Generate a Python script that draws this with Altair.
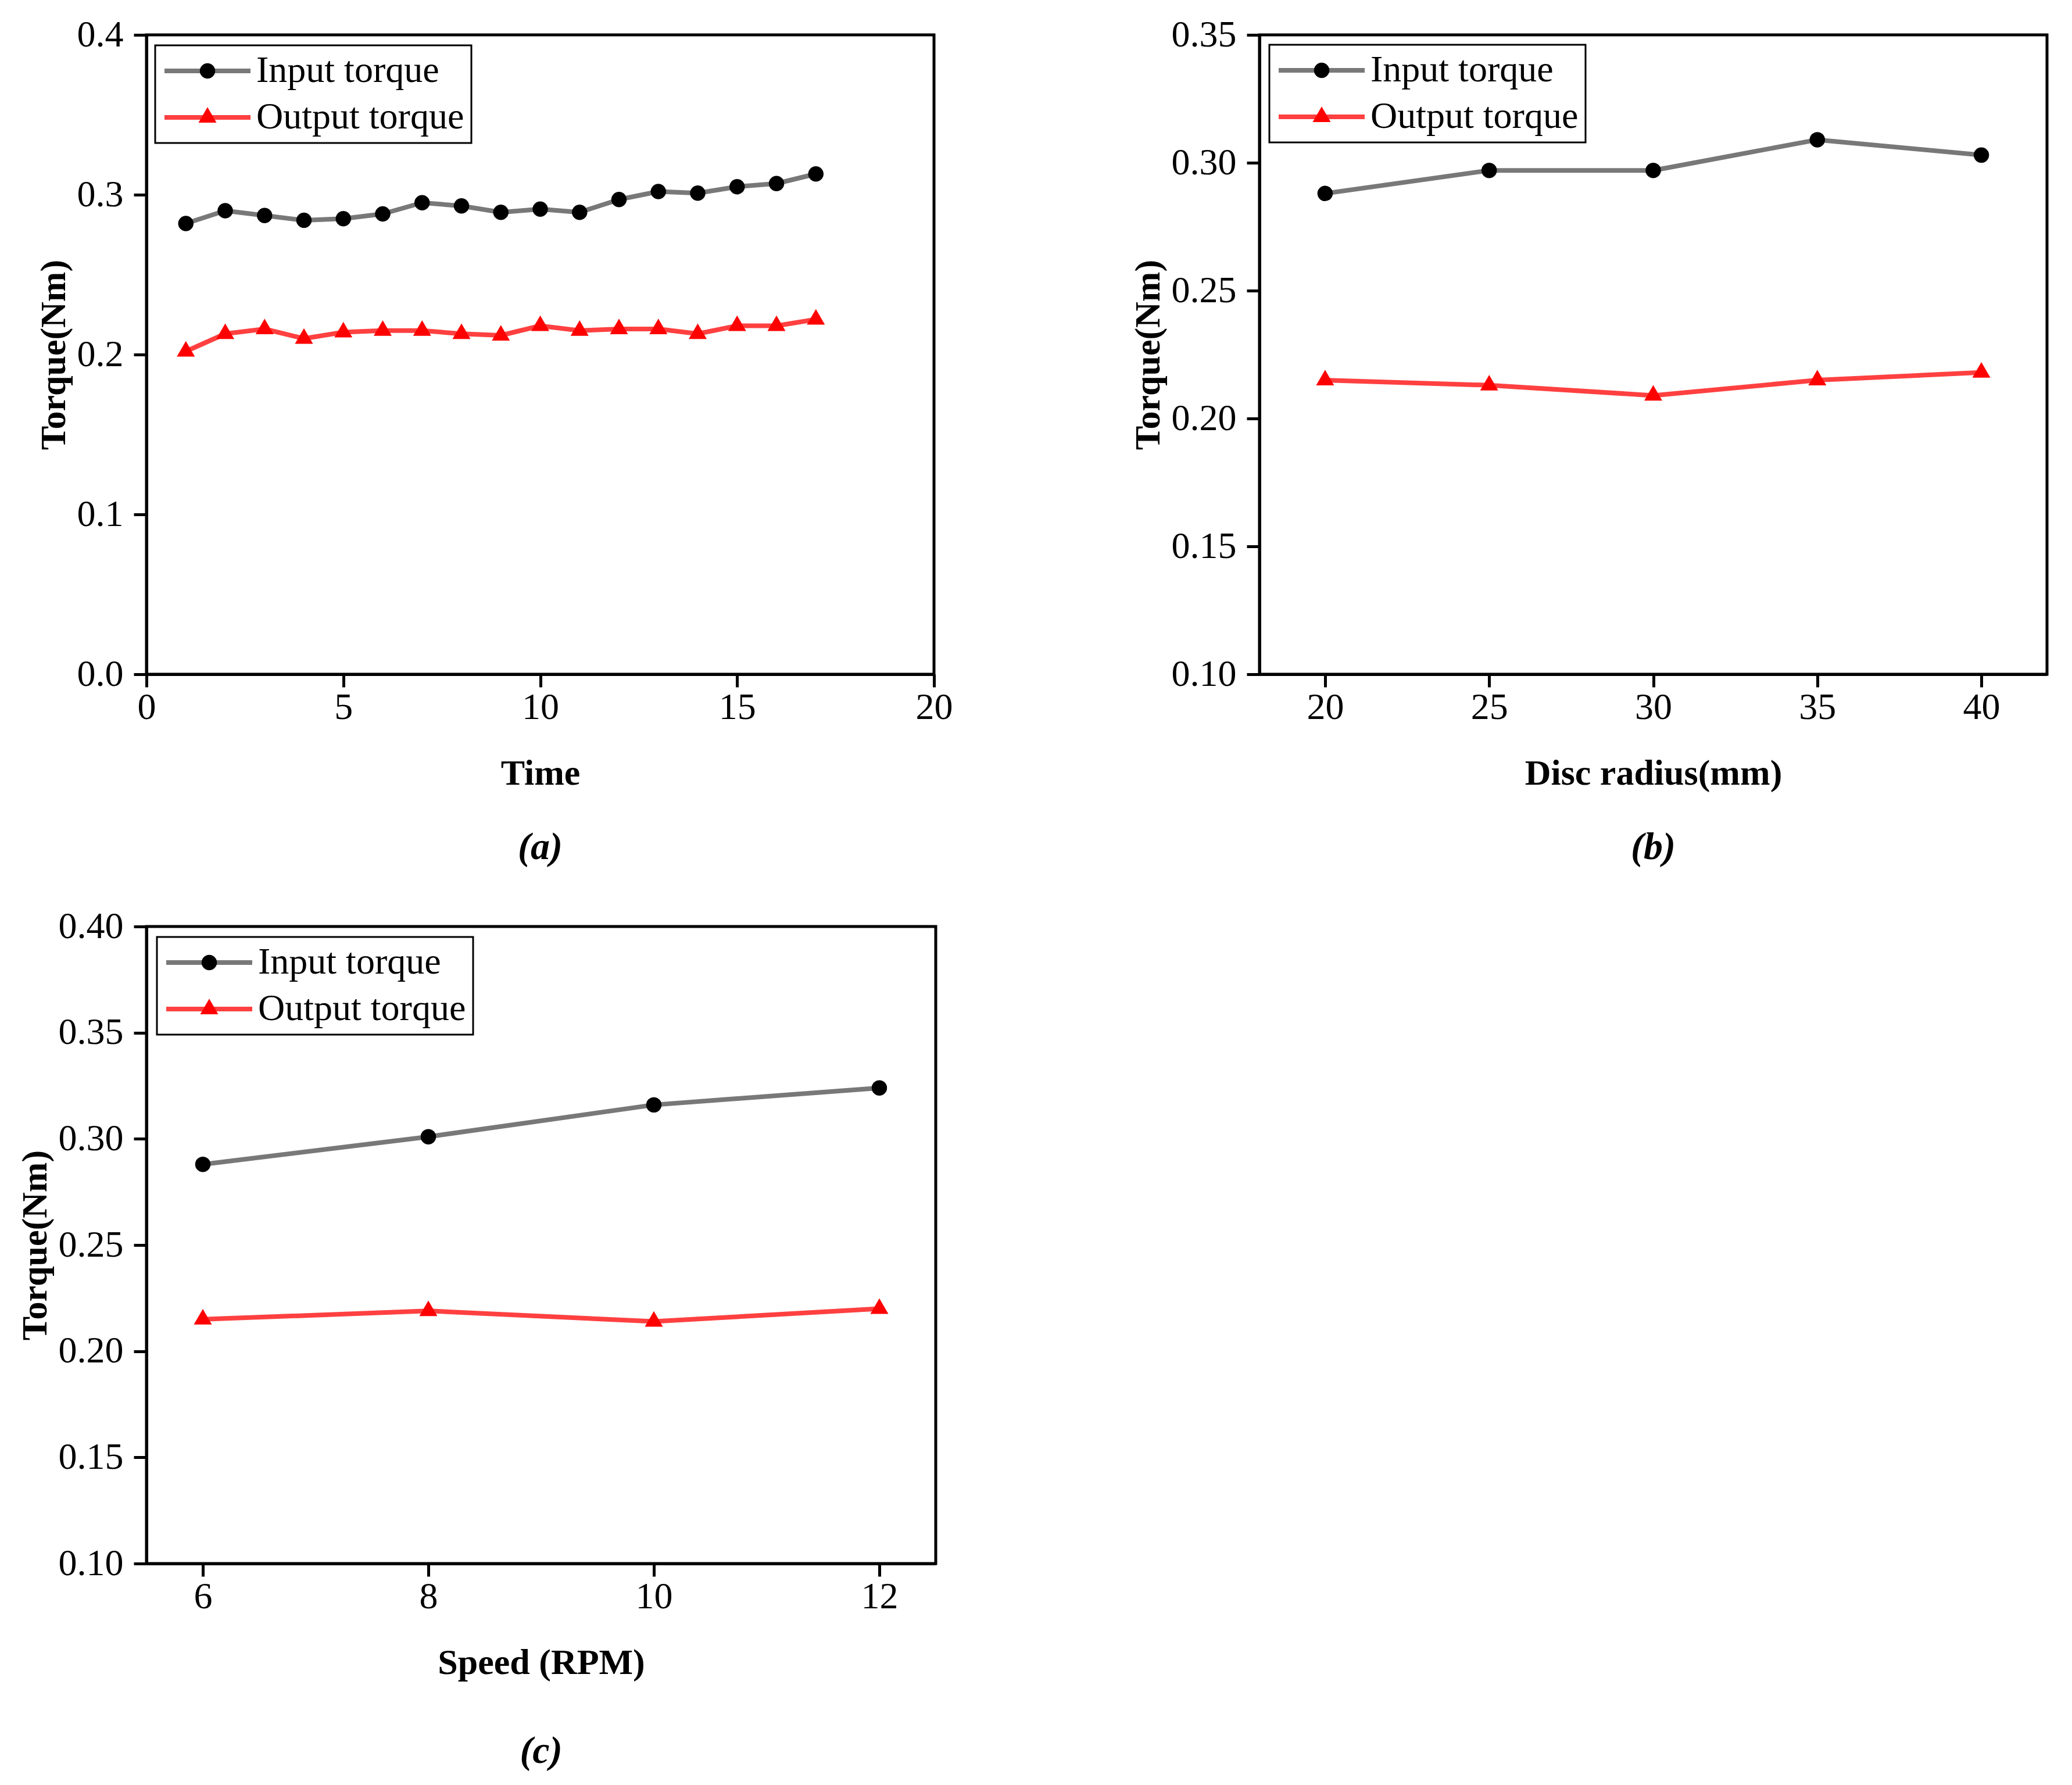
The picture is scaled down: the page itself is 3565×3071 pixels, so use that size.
import altair as alt
import pandas as pd

FONT = "Liberation Serif"
SERIES = ["Input torque", "Output torque"]
LINE_COLORS = ["#787878", "#ff4040"]
MARK_COLORS = ["#000000", "#ff0000"]
# triangle drawn with its centroid on the data point, as in the reference
TRIANGLE = "M0,-1.149L1,0.575L-1,0.575Z"
MARK_SHAPES = ["circle", TRIANGLE]
MARK_SIZES = [700, 960]

# (a) torque vs time
a_x = list(range(1, 18))
a_in = [0.282, 0.290, 0.287, 0.284, 0.285, 0.288, 0.295, 0.293, 0.289,
        0.291, 0.289, 0.297, 0.302, 0.301, 0.305, 0.307, 0.313]
a_out = [0.202, 0.213, 0.216, 0.210, 0.214, 0.215, 0.215, 0.213, 0.212,
         0.218, 0.215, 0.216, 0.216, 0.213, 0.218, 0.218, 0.222]

# (b) torque vs disc radius
b_x = [20, 25, 30, 35, 40]
b_in = [0.288, 0.297, 0.297, 0.309, 0.303]
b_out = [0.215, 0.213, 0.209, 0.215, 0.218]

# (c) torque vs speed
c_x = [6, 8, 10, 12]
c_in = [0.288, 0.301, 0.316, 0.324]
c_out = [0.215, 0.219, 0.214, 0.220]

LINE_LEN = 148
LINE_W = 8
LEG_FS = 64
LEG_PAD = 12
LEG_ROWPAD = 16
CLIP_H = 64
# centre of stroke symbol column minus centre of marker column
MARK_SHIFT = 0.5 * (LINE_LEN + LINE_W) - 0.5 * LEG_FS


def panel(xs, yin, yout, xdom, xvals, xtitle, ydom, yvals, yfmt, caption, lx, ly, w, h, cap_off):
    df = pd.DataFrame({
        "x": list(xs) + list(xs),
        "y": list(yin) + list(yout),
        "Series": [SERIES[0]] * len(xs) + [SERIES[1]] * len(xs),
    })
    df["Marker"] = df["Series"]
    base = alt.Chart(df)
    xenc = alt.X("x:Q", scale=alt.Scale(domain=xdom, nice=False, zero=False),
                 axis=alt.Axis(values=xvals, title=xtitle, format="d"))
    yenc = alt.Y("y:Q", scale=alt.Scale(domain=ydom, nice=False, zero=False),
                 axis=alt.Axis(values=yvals, format=yfmt, title="Torque(Nm)"))
    line_legend = alt.Legend(
        orient="none", legendX=lx, legendY=ly, title=None, direction="vertical",
        symbolType="stroke", symbolSize=LINE_LEN * LINE_LEN, symbolStrokeWidth=LINE_W,
        strokeColor="black", padding=LEG_PAD, rowPadding=LEG_ROWPAD, labelOffset=6,
        clipHeight=CLIP_H, labelFontSize=LEG_FS, labelFont=FONT, labelColor="black",
        labelLimit=2000,
    )
    mark_legend = alt.Legend(
        orient="none", legendX=lx + MARK_SHIFT, legendY=ly, title=None, direction="vertical",
        symbolStrokeWidth=0, padding=LEG_PAD, rowPadding=LEG_ROWPAD, labelOffset=6,
        clipHeight=CLIP_H, labelFontSize=LEG_FS, labelFont=FONT, labelOpacity=0,
        labelExpr="' '", labelLimit=2000, symbolOpacity=1,
    )
    line = base.mark_line(strokeWidth=LINE_W, strokeJoin="round").encode(
        x=xenc, y=yenc,
        color=alt.Color("Series:N", scale=alt.Scale(domain=SERIES, range=LINE_COLORS),
                        legend=line_legend),
    )
    # marker scales use the data-driven domain of "Marker" so their legend
    # stays separate from the line legend and can be overlaid on it
    pts = base.mark_point(filled=True, opacity=1).encode(
        x=xenc, y=yenc,
        fill=alt.Fill("Marker:N", scale=alt.Scale(range=MARK_COLORS), legend=mark_legend),
        shape=alt.Shape("Marker:N", scale=alt.Scale(range=MARK_SHAPES), legend=mark_legend),
        size=alt.Size("Marker:O", scale=alt.Scale(type="ordinal", range=MARK_SIZES),
                      legend=mark_legend),
    )
    return alt.layer(line, pts).properties(
        width=w, height=h,
        title=alt.TitleParams(caption, orient="bottom", anchor="middle", font=FONT,
                              fontSize=66, fontStyle="italic", fontWeight="bold",
                              color="black", offset=cap_off),
    )


pa = panel(a_x, a_in, a_out, [0, 20], [0, 5, 10, 15, 20], "Time",
           [0, 0.4], [0, 0.1, 0.2, 0.3, 0.4], ".1f", "(a)", 15, 18, 1355, 1100, 65)
pb = panel(b_x, b_in, b_out, [18, 42], [20, 25, 30, 35, 40], "Disc radius(mm)",
           [0.10, 0.35], [0.10, 0.15, 0.20, 0.25, 0.30, 0.35], ".2f", "(b)", 17, 17, 1355, 1100, 65)
pc = panel(c_x, c_in, c_out, [5.5, 12.5], [6, 8, 10, 12], "Speed (RPM)",
           [0.10, 0.40], [0.10, 0.15, 0.20, 0.25, 0.30, 0.35, 0.40], ".2f", "(c)", 18, 18, 1358, 1096, 90)

chart = alt.concat(pa, pb, pc, columns=2, bounds="flush",
                   spacing={"column": 557, "row": 434}).resolve_scale(
    color="independent", fill="independent", shape="independent", size="independent"
).properties(
    padding={"left": 18, "top": 17, "right": 10, "bottom": 10},
    background="white",
).configure_view(
    stroke="black", strokeWidth=5
).configure_axis(
    grid=False, domainColor="black", domainWidth=5, tickColor="black", tickWidth=5,
    tickSize=22, labelFont=FONT, labelFontSize=64, labelColor="black",
    titleFont=FONT, titleFontSize=62, titleFontWeight="bold", titleColor="black",
    labelFlush=False, labelOverlap=False,
).configure_axisX(
    labelPadding=3, titlePadding=51
).configure_axisY(
    labelPadding=18, titlePadding=8
)

try:
    chart.configure_legend(strokeWidth=3).save(
        "out.html", embed_options={"renderer": "svg", "actions": False})
except Exception:
    chart.save("out.html", embed_options={"renderer": "svg", "actions": False})
